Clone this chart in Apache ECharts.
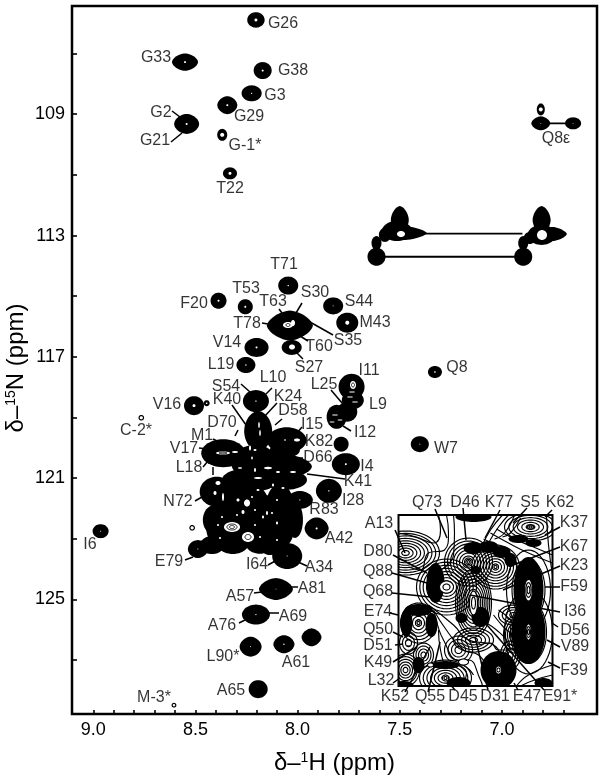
<!DOCTYPE html>
<html><head><meta charset="utf-8">
<style>html,body{margin:0;padding:0;background:#fff}#c{width:605px;height:779px}</style>
<script src="https://cdn.jsdelivr.net/npm/echarts@6/dist/echarts.min.js"></script>
</head><body><div id="c"></div>
<script>
// ---------- axes ----------
const hTicks = [9.0,8.9,8.8,8.7,8.6,8.5,8.4,8.3,8.2,8.1,8.0,7.9,7.8,7.7,7.6,7.5,7.4,7.3,7.2,7.1,7.0,6.9,6.8,6.7];
const hTickLabels = [9.0,8.5,8.0,7.5,7.0];
const nTicks = [107,109,111,113,115,117,119,121,123,125,127];
const nTickLabels = [109,113,117,121,125];
// ---------- resolved peaks, [1H ppm, 15N ppm] ----------
const peaks = [
 [8.204,105.89],[8.551,107.28],[8.171,107.56],[8.225,108.31],[8.344,108.70],[8.543,109.32],[8.369,109.68],[8.331,110.95],
 [8.046,114.65],[8.387,115.15],[8.256,115.35],[7.826,115.32],[7.757,115.875],[8.038,115.97],[8.029,116.69],[8.201,116.69],[8.253,117.27],
 [7.736,117.99],[7.73,118.43],[7.757,118.81],[7.809,118.98],[8.204,118.46],[8.507,118.61],[8.445,118.53],[8.765,119.01],
 [7.787,119.88],[7.764,120.54],[7.847,121.42],[7.328,117.50],[7.402,119.88],
 [8.193,119.45],[8.054,119.75],[8.364,120.18],[8.126,120.62],[8.396,121.45],[8.25,121.82],[8.087,121.95],[7.989,121.72],
 [8.364,122.65],[8.25,122.81],[8.087,122.71],[8.317,123.14],[8.185,123.10],[8.488,123.34],[8.051,123.57],[8.516,122.64],
 [8.964,122.75],[7.907,122.66],[8.106,124.66],[8.204,125.50],[8.23,126.56],[8.067,126.48],[7.932,126.25],[8.193,127.96],[8.605,128.49],
 [6.81,109.30],[6.81,108.84],[6.652,109.30],
 [7.50,112.49],[7.48,112.92],[7.514,112.85],[7.614,113.25],[7.614,113.70],
 [6.806,112.49],[6.806,112.98],[6.751,112.95],[6.896,113.25],[6.896,113.70],
 [8.209,120.24],[8.233,121.06],[8.062,121.06],[8.307,122.22],[8.16,122.38],[8.013,122.38],[8.405,122.38],[8.136,123.21],[8.356,121.89],[8.062,120.07],
 [8.419,123.21],[7.573,112.98],[6.864,113.08]
];
// drawn size of each peak above, in pixels: [rx, ry, hole, roundness]
const peakShapes = [
 [8.7,7.7,1.5,2],[13,8.7,1,1.7],[9,8.5,1,2],[10,8,.6,2],[10,9,1,1.8],[12.5,10,1,1.8],[5,6,2,2],[7,6,1.5,2],
 [10,9,.7,2],[8,8,1,2],[7.5,7.5,1,2],[10,8.5,.5,2],[11,10,2,2],[23,15,0,1.6],[10,7.5,0,2],[12,9.5,1,2],[9.5,8,.7,2],
 [13,13,0,2],[11,9,0,2],[10,10,0,2],[10,12,0,2],[13,11,.7,2],[10,9.5,1.5,2],[3,3,.8,2],[2.8,2.8,1.6,2],
 [7.5,7.5,0,2],[14,11,1,2],[13,12,.7,1.9],[7,6,.8,2],[9,8,.5,2],
 [14,20,0,1.9],[20,13,0,1.9],[22,14,0,2],[40,14,0,1.8],[17,15,0,2],[22,20,0,2],[14,23,0,2],[13,9,.6,1.9],
 [17,20,0,2],[18,14,0,2],[14,18,0,2],[16,11,0,2],[15,12,0,2],[10,9,.5,1.9],[15,13,.5,2],[2.8,2.8,1.6,2],
 [8,7,.5,2],[12,11,1,1.8],[17,11,.4,1.65],[14,10,.6,1.9],[11,10,.5,1.8],[10.5,9,.7,1.8],[10,9,0,1.7],[9.5,9,0,2],[2.4,2.4,1.2,2],
 [9.5,7,.4,1.7],[4,6,2,2],[8,6,.4,2],
 [9,14,0,1.7],[23,7,0,1.5],[15,10,0,2],[5,7,0,2],[9,9,0,2],
 [9,14,0,1.7],[14,10,0,2],[14,7,0,1.5],[5,7,0,2],[9,9,0,2],
 [18,10,0,2],[28,12,0,2],[22,10,0,2],[18,25,0,2],[15,25,0,2],[8,18,0,2],[12,15,0,2],[10,10,0,2],[10,10,0,2],[15,8,0,2],
 [12,9,0,2],[6,7,0,2],[6,6,0,2]
];
// lines joining the side-chain peak pairs, [[H,N],[H,N]]
const connectors = [
 [[6.81,109.30],[6.652,109.30]],
 [[7.40,112.94],[6.90,112.94]],
 [[7.614,113.70],[6.896,113.70]]
];
// white gaps between the crowded contours [page x, page y, rx, ry]
const gaps = [
 [259,425,.8,3],[260,433,.8,3],[250,448,1,2.5],[255,450,1.5,1],[252,458,.8,1.5],[255,470,1,2],[268,468,4,1.2],[278,472,2,1],[293,472,3,1],[240,468,2,.8],
 [258,478,4,1],[273,485,1,1.5],[283,488,1.5,1],[238,500,1.5,1.5],[247,503,3,3.5],[243,512,1.5,2],[258,490,1.5,1],[252,497,1,1],[263,517,1,1.5],[267,513,1,2],
 [277,500,1,1],[277,523,1,1.5],[277,540,1,1],[255,510,1,1],[218,483,2.5,2],[215,493,1.5,2],[223,497,1,4],[232,527,8,5],[248,537,6,5],[220,538,1,1],
 [218,525,1,1],[222,517,1,1],[260,537,1,1],[223,453,7,1.5],[235,452,3,1],[285,440,.8,.8],[297,440,3,1.5],[255,525,1,1],[237,515,1,1],[272,513,1,1],
 [353,385,3,4],[350,397,3,.6],[355,402,3,.6],[335,415,3,.6],[340,420,2.5,.6],[332,422,2.5,.6],[288,325,5,3],[293,323,2,3],[292,347,3,2.5],
 [401,234,4,3],[542,235,5,5],[352,392,3,.6]
];
const gapLines = [[232,527,5,3],[232,527,2.5,1.5],[248,537,3,2.5],[223,453,4,.8],[353,385,1.5,2],[288,325,2,1.5]];
// ---------- inset (local units along its width and height) ----------
const insetRange = [154,171];
const insetDark = [
 [130,75,15,33],[130,117,17,32],[100,155,18,19],[37,68,9,20],[82,102,9,10],[63,103,6,5],[77,55,5,4],
 [75,33,10,6],[90,32,10,6],[103,37,9,6],[112,45,6,7],[75,2,18,5],[120,24,10,4],[135,28,8,4],[20,95,14,6],[33,110,6,12],
 [8,108,6,14],[20,150,6,8],[5,170,10,4],[145,168,9,5],[60,168,12,6],[47,150,14,4]
];
const insetRings = [
 [70,47,24,24,8],[97,52,24,22,8],[48,72,30,28,9],[75,88,18,34,10],[20,108,18,20,6],[10,128,9,11,3],[7,155,14,16,6],
 [47,163,26,18,7],[132,12,26,14,6],[7,38,34,22,9],[130,75,22,40,4],[130,117,24,42,4],
 [75,125,20,12,5],[60,135,14,14,4],[115,100,15,10,4],[115,120,10,18,5],[25,140,10,12,4],[112,140,10,14,4]
];
const insetCores = [
 [130,75,4,11,2],[130,117,3,8,2],[100,155,3,4,1],[70,47,4,4,2],[48,72,7,6,1],[20,108,3,3,1],[10,128,3,3,0],[75,88,4,12,1],
 [97,52,3,3,1],[47,163,3,3,1],[132,12,3,2,1],[32,150,3,2,0],[65,147,5,3,0]
];
const insetContours = [
 [[40,0],[42,15],[35,28],[18,22],[0,18]],
 [[48,0],[50,18],[46,35],[30,38],[22,55],[10,52]],
 [[55,0],[56,18],[55,40],[42,55]],
 [[104,0],[92,15],[84,30]],
 [[110,0],[100,12],[90,28]],
 [[116,0],[106,18],[96,24]],
 [[122,3],[112,18],[104,22]],
 [[92,18],[110,28],[130,38],[154,48]],
 [[98,14],[116,24],[135,32],[154,40]],
 [[85,24],[105,35],[118,48],[120,62]],
 [[30,90],[55,110],[70,125],[95,130],[105,150]],
 [[35,95],[50,118],[65,135],[80,140],[90,155]],
 [[38,105],[45,125],[60,145],[70,145],[82,165],[84,171]],
 [[40,115],[42,135],[50,150],[62,150],[75,160]],
 [[88,108],[98,115],[108,125],[112,135]],
 [[95,100],[105,112],[115,122],[120,140]],
 [[100,95],[112,105],[118,115]],
 [[118,171],[130,160],[154,150]],
 [[122,171],[136,165],[154,160]],
 [[80,130],[92,128],[100,135],[120,135]],
 [[148,0],[150,30],[154,60]],
 [[60,150],[68,158],[63,171]]
];
// ---------- annotation text and leaders, placed on the page ----------
const labelTexts = [
 ['G26',283,24],['G33',156,58],['G38',293,71],['G3',275,96],['G29',249,117],['G2',161,113],['G21',155,141],['G-1*',245,146],['T22',230,189],['Q8ε',556,139],
 ['T71',284,265],['T53',246,289],['F20',194,304],['T63',273,302],['S30',315,293],['S44',359,302],['T78',247,324],['M43',375,323],['S35',348,341],['T60',319,347],
 ['V14',227,343],['L19',221,365],['S27',309,368],['I11',369,371],['Q8',457,368],['L25',324,385],['L10',273,378],['S54',226,387],['K40',227,400],['K24',288,397],
 ['V16',167,405],['L9',378,405],['D58',293,411],['C-2*',136,431],['D70',222,423],['I15',312,425],['I12',365,433],['M1',202,436],['K82',319,442],['W7',446,449],
 ['V17',184,449],['D66',318,458],['I4',367,467],['L18',189,468],['K41',358,482],['I28',353,501],['N72',178,502],['R83',324,510],['I6',90,545],['A42',339,539],
 ['E79',169,562],['I64',257,565],['A34',319,568],['A81',312,589],['A57',240,597],['A69',293,617],['A76',222,626],['L90*',223,657],['A61',296,663],['A65',231,691],['M-3*',154,698],
 ['Q73',427,503],['D46',465,503],['K77',499,503],['S5',530,503],['K62',560,503],['K37',574,523],['A13',379,524],['K67',574,547],['D80',378,552],['K23',574,566],
 ['Q88',378,572],['F59',574,587],['Q68',378,592],['E74',378,612],['I36',575,612],['Q50',378,630],['D56',575,631],['D51',378,646],['V89',575,647],['K49',378,663],
 ['F39',574,671],['L32',381,681],['K52',395,697],['Q55',430,697],['D45',463,697],['D31',495,697],['E47',527,697],['E91*',560,697]
];
const leaders = [
 [172,111,180,117],[171,142,182,133],[262,323,268,324],[279,309,282,313],[302,303,296,313],[310,322,333,335],[300,336,308,341],[297,353,303,359],
 [241,384,250,392],[272,388,265,395],[277,403,264,417],[232,405,246,425],[282,419,275,425],[238,430,235,436],[302,427,297,433],[331,390,342,403],[343,426,351,431],
 [213,439,219,442],[199,448,208,449],[203,467,208,461],[285,458,303,458],[307,474,345,479],[195,501,202,497],[213,467,213,475],[185,560,193,557],[268,565,277,560],
 [298,562,307,566],[254,593,262,592],[290,587,298,587],[239,623,245,620],[267,613,279,613],
 [435,509,447,538],[463,508,466,540],[500,510,485,538],[527,508,513,523],[552,510,545,517],[560,527,545,535],[395,530,405,553],[560,547,513,565],[393,555,427,573],
 [560,566,503,590],[392,573,427,583],[560,587,545,587],[392,593,440,598],[390,613,398,615],[560,612,470,595],[393,632,403,637],[558,627,552,623],[395,645,403,644],
 [560,647,547,640],[393,662,417,647],[560,668,548,662],[393,683,400,678],[405,692,430,647],[428,692,440,642],[455,690,448,682],[488,690,475,637],[518,690,514,683],[544,690,480,617]
];

// ---------- drawing ----------
function blob(cx,cy,rx,ry,p){
  const pts=[];
  for(let i=0;i<48;i++){
    const a=i/48*2*Math.PI,c=Math.cos(a),s=Math.sin(a);
    pts.push([cx+rx*Math.sign(c)*Math.pow(Math.abs(c),2/p),cy+ry*Math.sign(s)*Math.pow(Math.abs(s),2/p)]);
  }
  return pts;
}
const poly=(pts,style)=>({type:'polygon',shape:{points:pts},style});
const FONT='"Liberation Sans", Arial, sans-serif';
const ink='#000';
function ringsOf(api,row,fill){
  const c=api.coord([row[0],row[1]]),kids=[],n=row[4];
  if(fill) kids.push(poly(blob(c[0],c[1],row[2],row[3],2),{fill:'#fff',stroke:'#000',lineWidth:1.1}));
  for(let k=0;k<n;k++){
    const f=(fill?(n-k)/(n+1):(n-k)/n);
    kids.push(poly(blob(c[0],c[1],row[2]*f,row[3]*f,2),{fill:'none',stroke:'#000',lineWidth:1.15}));
  }
  return {type:'group',children:kids};
}
const chart=echarts.init(document.getElementById('c'),null,{renderer:'canvas'});
chart.setOption({
 animation:false,
 backgroundColor:'#fff',
 textStyle:{fontFamily:FONT},
 grid:[
  {left:72,top:6,width:525,height:708,show:true,borderColor:'#000',borderWidth:2.5,backgroundColor:'#fff',outerBoundsMode:'none'},
  {left:398.5,top:515,width:154,height:171,show:true,borderColor:'#000',borderWidth:2,backgroundColor:'#fff',z:1,outerBoundsMode:'none'},
  {left:0,top:0,width:605,height:779,outerBoundsMode:'none'}
 ],
 xAxis:[
  {type:'value',gridIndex:0,inverse:true,min:6.535,max:9.104,position:'bottom',splitLine:{show:false},
   axisLine:{show:false},
   axisTick:{show:true,inside:true,length:4,lineStyle:{color:'#000',width:1.6},customValues:hTicks},
   axisLabel:{customValues:hTickLabels,formatter:v=>v.toFixed(1),color:ink,fontSize:18,fontFamily:FONT,margin:7},
   name:'{n|δ–}{s|1}{n|H (ppm)}',nameLocation:'middle',nameGap:37,nameMoveOverlap:false,
   nameTextStyle:{rich:{n:{fontSize:24,fontFamily:FONT,color:ink},s:{fontSize:14,fontFamily:FONT,color:ink,padding:[0,0,10,0]}}}},
  {type:'value',gridIndex:1,min:0,max:insetRange[0],show:false},
  {type:'value',gridIndex:2,min:0,max:605,show:false}
 ],
 yAxis:[
  {type:'value',gridIndex:0,inverse:true,min:105.43,max:128.78,position:'left',splitLine:{show:false},
   axisLine:{show:false},
   axisTick:{show:true,inside:true,length:5,lineStyle:{color:'#000',width:1.6},customValues:nTicks},
   axisLabel:{customValues:nTickLabels,color:ink,fontSize:18,fontFamily:FONT,margin:7},
   name:'{n|δ–}{s|15}{n|N (ppm)}',nameLocation:'middle',nameGap:44,nameRotate:90,nameMoveOverlap:false,
   nameTextStyle:{padding:[0,16,0,0],rich:{n:{fontSize:24,fontFamily:FONT,color:ink},s:{fontSize:14,fontFamily:FONT,color:ink,padding:[0,0,10,0]}}}},
  {type:'value',gridIndex:1,inverse:true,min:0,max:insetRange[1],show:false},
  {type:'value',gridIndex:2,inverse:true,min:0,max:779,show:false}
 ],
 series:[
  {type:'custom',xAxisIndex:0,yAxisIndex:0,z:2,silent:true,data:peaks,encode:{x:0,y:1},
   renderItem:(p,api)=>{const c=api.coord([api.value(0),api.value(1)]),s=peakShapes[p.dataIndex];
     return poly(blob(c[0],c[1],s[0],s[1],s[3]),{fill:'#000'});}},
  {type:'custom',xAxisIndex:0,yAxisIndex:0,z:3,silent:true,data:peaks,encode:{x:0,y:1},
   renderItem:(p,api)=>{const c=api.coord([api.value(0),api.value(1)]),s=peakShapes[p.dataIndex];
     if(!s[2]) return null;
     return poly(blob(c[0],c[1],s[2],s[2],2),{fill:'#fff'});}},
  {type:'custom',xAxisIndex:0,yAxisIndex:0,z:2,silent:true,data:connectors.map(r=>[r[0][0],r[0][1],r[1][0],r[1][1]]),encode:{x:[0,2],y:[1,3]},
   renderItem:(p,api)=>{const a=api.coord([api.value(0),api.value(1)]),b=api.coord([api.value(2),api.value(3)]);
     return {type:'line',shape:{x1:a[0],y1:a[1],x2:b[0],y2:b[1]},style:{stroke:'#000',lineWidth:1.8}};}},
  {type:'custom',xAxisIndex:2,yAxisIndex:2,z:4,silent:true,data:gaps,encode:{x:0,y:1},
   renderItem:(p,api)=>{const c=api.coord([api.value(0),api.value(1)]);
     return poly(blob(c[0],c[1],api.value(2),api.value(3),2),{fill:'#fff'});}},
  {type:'custom',xAxisIndex:2,yAxisIndex:2,z:5,silent:true,data:gapLines,encode:{x:0,y:1},
   renderItem:(p,api)=>{const c=api.coord([api.value(0),api.value(1)]);
     return poly(blob(c[0],c[1],api.value(2),api.value(3),2),{fill:'none',stroke:'#000',lineWidth:.9});}},
  // inset
  ...insetContours.map(line=>({type:'line',xAxisIndex:1,yAxisIndex:1,z:3,silent:true,data:line,showSymbol:false,smooth:.5,clip:true,
     lineStyle:{color:'#000',width:1.15}})),
  {type:'custom',xAxisIndex:1,yAxisIndex:1,z:3,silent:true,clip:true,data:insetRings,encode:{x:0,y:1},
   renderItem:(p,api)=>ringsOf(api,insetRings[p.dataIndex],false)},
  {type:'custom',xAxisIndex:1,yAxisIndex:1,z:4,silent:true,clip:true,data:insetDark,encode:{x:0,y:1},
   renderItem:(p,api)=>{const c=api.coord([api.value(0),api.value(1)]);
     return poly(blob(c[0],c[1],api.value(2),api.value(3),2),{fill:'#000'});}},
  {type:'custom',xAxisIndex:1,yAxisIndex:1,z:5,silent:true,clip:true,data:insetCores,encode:{x:0,y:1},
   renderItem:(p,api)=>ringsOf(api,insetCores[p.dataIndex],true)},
  // annotation
  {type:'custom',xAxisIndex:2,yAxisIndex:2,z:10,silent:true,data:leaders,encode:{x:[0,2],y:[1,3]},
   renderItem:(p,api)=>{const a=api.coord([api.value(0),api.value(1)]),b=api.coord([api.value(2),api.value(3)]);
     return {type:'line',shape:{x1:a[0],y1:a[1],x2:b[0],y2:b[1]},style:{stroke:'#000',lineWidth:1.5}};}},
  {type:'scatter',xAxisIndex:2,yAxisIndex:2,z:11,silent:true,symbolSize:1,itemStyle:{color:'transparent'},
   data:labelTexts.map(r=>[r[1],r[2],r[0]]),
   label:{show:true,position:'inside',formatter:p=>p.data[2],color:ink,fontSize:16,fontFamily:FONT,backgroundColor:'transparent'}}
 ]
});
</script></body></html>
